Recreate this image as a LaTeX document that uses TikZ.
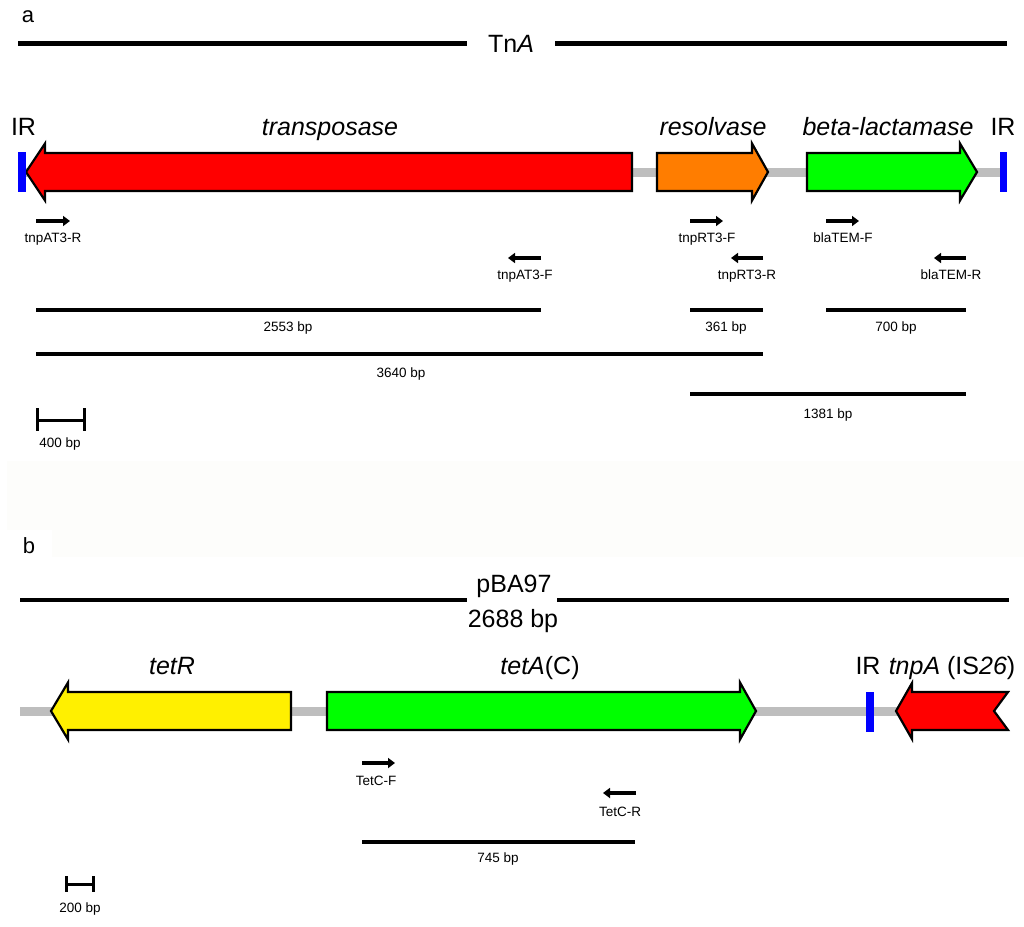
\documentclass[tikz,border=0pt]{standalone}
\usepackage{fontspec}
\setmainfont{Liberation Sans}
\usetikzlibrary{arrows.meta}
\definecolor{genered}{RGB}{255,0,0}
\definecolor{geneorange}{RGB}{255,125,0}
\definecolor{genegreen}{RGB}{0,255,0}
\definecolor{geneyellow}{RGB}{255,240,0}
\definecolor{irblue}{RGB}{0,0,255}
\definecolor{backbonegray}{RGB}{190,190,190}
\definecolor{tintbg}{RGB}{253,253,251}
\newcommand\GeneRight[5]{% x0, headbase, tip, cy, colour
  \filldraw[gene, fill=#5] (#1,{#4-19}) -- (#2,{#4-19}) -- (#2,{#4-28.5}) -- (#3,#4)
    -- (#2,{#4+28.5}) -- (#2,{#4+19}) -- (#1,{#4+19}) -- cycle;}
\newcommand\GeneLeft[5]{% tip, headbase, x1, cy, colour
  \filldraw[gene, fill=#5] (#3,{#4-19}) -- (#2,{#4-19}) -- (#2,{#4-28.5}) -- (#1,#4)
    -- (#2,{#4+28.5}) -- (#2,{#4+19}) -- (#3,{#4+19}) -- cycle;}
\begin{document}
\begin{tikzpicture}[x=1pt,y=-1pt,
  big/.style={font=\fontsize{25}{25}\selectfont, inner sep=0pt, anchor=base},
  panel/.style={font=\fontsize{22}{22}\selectfont, inner sep=0pt, anchor=base},
  small/.style={font=\fontsize{13.5}{13.5}\selectfont, inner sep=0pt, anchor=base},
  gene/.style={draw=black, line width=2.2pt, line join=miter},
  primer/.style={line width=4pt, -{Triangle[length=7pt,width=10pt]}},
  product/.style={line width=3.5pt},
  ruler/.style={line width=4.5pt},
  backb/.style={draw=backbonegray, line width=9pt},
  irbar/.style={fill=irblue},
  scalebar/.style={line width=3pt}]
\useasboundingbox (0,0) rectangle (1024,926);
\fill[white] (0,0) rectangle (1024,926);
% faint band between panels
\fill[tintbg] (7,461) rectangle (1024,557);
\fill[white] (7,530) rectangle (52,557);

% ---------------- panel a ----------------
\node[panel] (la) at (28,22) {a};
\node[big] (tna) at (511,52) {Tn\textit{A}};
\draw[ruler] (18,43.5) -- (467,43.5);
\draw[ruler] (555,43.5) -- (1007,43.5);

\node[big] (irl) at (23.5,135) {IR};
\node[big] (transp) at (330,135) {\textit{transposase}};
\node[big] (resolv) at (713,135) {\textit{resolvase}};
\node[big] (blact) at (888,135) {\textit{beta-lactamase}};
\node[big] (irr) at (1003,135) {IR};

\draw[backb] (22,172) -- (1004,172);
\GeneLeft{26}{45}{632}{172}{genered}
\GeneRight{657}{752}{768}{172}{geneorange}
\GeneRight{807}{960}{977}{172}{genegreen}
\fill[irbar] (18,152) rectangle (26,192);
\fill[irbar] (1000,152) rectangle (1007,192);

% primers
\draw[primer] (36,221) -- (70,221);
\node[small] (p1) at (53,242) {tnpAT3-R};
\draw[primer] (541,258) -- (508,258);
\node[small] (p2) at (525,279) {tnpAT3-F};
\draw[primer] (690,221) -- (723,221);
\node[small] (p3) at (707,242) {tnpRT3-F};
\draw[primer] (763,258) -- (731,258);
\node[small] (p4) at (747,279) {tnpRT3-R};
\draw[primer] (826,221) -- (859,221);
\node[small] (p5) at (843,242) {blaTEM-F};
\draw[primer] (966,258) -- (934,258);
\node[small] (p6) at (951,279) {blaTEM-R};

% products
\draw[product] (36,310) -- (541,310);
\node[small] (s1) at (288,331) {2553 bp};
\draw[product] (690,310) -- (763,310);
\node[small] (s2) at (726,331) {361 bp};
\draw[product] (826,310) -- (966,310);
\node[small] (s3) at (896,331) {700 bp};
\draw[product] (36,354) -- (763,354);
\node[small] (s4) at (401,377) {3640 bp};
\draw[product] (690,394) -- (966,394);
\node[small] (s5) at (828,418) {1381 bp};

% scale bar
\draw[scalebar] (37,420) -- (84,420);
\draw[scalebar] (37,408) -- (37,431);
\draw[scalebar] (84,408) -- (84,431);
\node[small] (sc1) at (60,447) {400 bp};

% ---------------- panel b ----------------
\node[panel] (lb) at (29,553) {b};
\node[big] (pba) at (514,592) {pBA97};
\node[big] (pbl) at (513,627) {2688 bp};
\draw[ruler] (20,600) -- (467,600);
\draw[ruler] (557,600) -- (1009,600);

\node[big] (tetr) at (172,674) {\textit{tetR}};
\node[big] (teta) at (540,674) {\textit{tetA}(C)};
\node[big] (irb) at (868,674) {IR};
\node[big] (tnpa) at (952,674) {\textit{tnpA} (IS\textit{26})};

\draw[backb] (20,711) -- (900,711);
\GeneLeft{51}{68}{291}{711}{geneyellow}
\GeneRight{327}{740}{756}{711}{genegreen}
\filldraw[gene, fill=genered] (1008,692) -- (912,692) -- (912,683) -- (896,711)
  -- (912,739) -- (912,730) -- (1008,730) -- (994,711) -- cycle;
\fill[irbar] (866,692) rectangle (874,732);

\draw[primer] (362,763) -- (395,763);
\node[small] (q1) at (376,785) {TetC-F};
\draw[primer] (636,793) -- (603,793);
\node[small] (q2) at (620,816) {TetC-R};
\draw[product] (362,842) -- (635,842);
\node[small] (s6) at (498,862) {745 bp};

\draw[scalebar] (66,884) -- (93,884);
\draw[scalebar] (66,876) -- (66,892);
\draw[scalebar] (93,876) -- (93,892);
\node[small] (sc2) at (80,912) {200 bp};
\end{tikzpicture}
\end{document}
